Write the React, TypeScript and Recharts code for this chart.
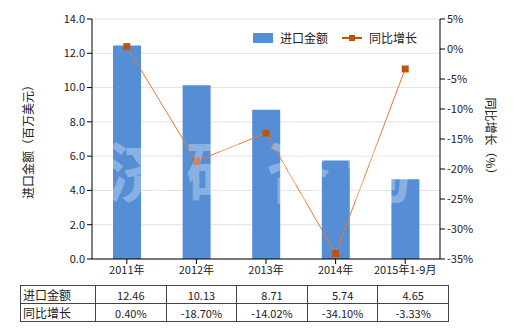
import { ComposedChart, Bar, Line, XAxis, YAxis, CartesianGrid } from 'recharts'

const categories = ['2011年', '2012年', '2013年', '2014年', '2015年1-9月']
const importValue = [12.46, 10.13, 8.71, 5.74, 4.65]
const yoyGrowth = [0.4, -18.7, -14.02, -34.1, -3.33]
const leftTicks = [0, 2, 4, 6, 8, 10, 12, 14]
const rightTicks = [-35, -30, -25, -20, -15, -10, -5, 0, 5]

const BAR = '#558ed5'
const LINE = '#e47a36'
const MARK = '#c4500c'
const FONT = '"Noto Sans CJK SC", "Noto Sans", sans-serif'

const data = categories.map((c, i) => ({ name: c, value: importValue[i], yoy: yoyGrowth[i] }))

function SquareDot(props: any) {
  const { cx, cy } = props
  if (cx == null || cy == null) return null
  return <rect x={cx - 3.5} y={cy - 3.5} width={7} height={7} fill={MARK} />
}

function LegendBox() {
  return (
    <div style={{ position: 'absolute', left: 253, top: 29, display: 'flex', alignItems: 'center', fontSize: 12, color: '#222', fontFamily: FONT }}>
      <span style={{ width: 20, height: 10, background: BAR, display: 'inline-block', marginRight: 7 }} />
      <span style={{ marginRight: 14 }}>进口金额</span>
      <svg width={20} height={10} style={{ marginRight: 7 }}>
        <line x1={0} y1={5} x2={20} y2={5} stroke={MARK} strokeWidth={2} />
        <rect x={7} y={2} width={6} height={6} fill={MARK} />
      </svg>
      <span>同比增长</span>
    </div>
  )
}

export default function App() {
  const tickStyle = { fontSize: 11, fill: '#222', fontFamily: FONT }
  const cellW = 69.6
  return (
    <div style={{ position: 'absolute', left: 0, top: 0, width: 520, height: 330, background: '#fff', fontFamily: FONT }}>
      <ComposedChart width={520} height={330} data={data} margin={{ top: 19, right: 0, bottom: 46, left: 0 }}>
        <CartesianGrid yAxisId="left" vertical={false} stroke="#e2e2e2" />
        <XAxis
          dataKey="name"
          height={25}
          tick={tickStyle}
          tickLine={{ stroke: '#000' }}
          axisLine={{ stroke: '#000' }}
          tickSize={5}
          interval={0}
        />
        <YAxis
          yAxisId="left"
          width={92}
          domain={[0, 14]}
          ticks={leftTicks}
          tickFormatter={(v: number) => v.toFixed(1)}
          tick={tickStyle}
          tickLine={{ stroke: '#000' }}
          axisLine={{ stroke: '#000' }}
          tickSize={5}
          label={{ value: '进口金额（百万美元）', angle: -90, position: 'insideLeft', offset: 29, style: { textAnchor: 'middle', fontSize: 12, fill: '#222', fontFamily: FONT } }}
        />
        <YAxis
          yAxisId="right"
          orientation="right"
          width={80}
          domain={[-35, 5]}
          ticks={rightTicks}
          tickFormatter={(v: number) => `${v}%`}
          tick={tickStyle}
          tickLine={{ stroke: '#000' }}
          axisLine={{ stroke: '#000' }}
          tickSize={5}
          label={{ value: '同比增长（%）', angle: 90, position: 'insideRight', offset: 30, style: { textAnchor: 'middle', fontSize: 12, fill: '#222', fontFamily: FONT } }}
        />
        <Bar yAxisId="left" dataKey="value" name="进口金额" fill={BAR} barSize={28} isAnimationActive={false} />
        <Line
          yAxisId="right"
          dataKey="yoy"
          name="同比增长"
          stroke={LINE}
          strokeWidth={1}
          dot={<SquareDot />}
          activeDot={false}
          isAnimationActive={false}
        />
      </ComposedChart>
      <LegendBox />
      <div style={{ position: 'absolute', left: 92, top: 128, width: 348, textAlign: 'center', whiteSpace: 'nowrap', fontSize: 66, fontWeight: 'bold', letterSpacing: 14, color: 'rgba(255,255,255,0.3)', pointerEvents: 'none', lineHeight: '80px' }}>
        济研咨询
      </div>
      <table style={{ position: 'absolute', left: 20, top: 285, borderCollapse: 'collapse', fontSize: 11, color: '#222', tableLayout: 'fixed', width: 418 }}>
        <tbody>
          <tr style={{ height: 17 }}>
            <td style={{ border: '1.5px solid #444', width: 70, padding: '0 2px', fontSize: 12 }}>进口金额</td>
            {importValue.map((v, i) => (
              <td key={i} style={{ border: '1.5px solid #444', width: cellW, textAlign: 'center', padding: 0 }}>{v.toFixed(2)}</td>
            ))}
          </tr>
          <tr style={{ height: 17 }}>
            <td style={{ border: '1.5px solid #444', padding: '0 2px', fontSize: 12 }}>同比增长</td>
            {yoyGrowth.map((v, i) => (
              <td key={i} style={{ border: '1.5px solid #444', textAlign: 'center', padding: 0 }}>{v.toFixed(2)}%</td>
            ))}
          </tr>
        </tbody>
      </table>
    </div>
  )
}
